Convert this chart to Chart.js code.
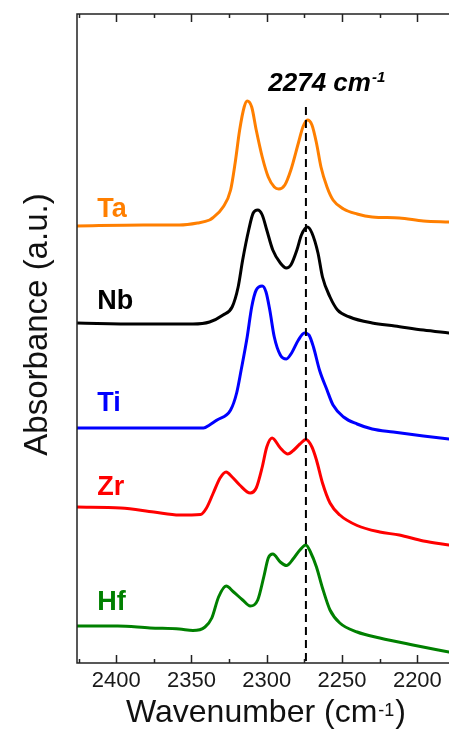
<!DOCTYPE html>
<html><head><meta charset="utf-8">
<script src="https://cdn.jsdelivr.net/npm/chart.js@4"></script>
<style>html,body{margin:0;padding:0;background:#fff;overflow:hidden}canvas{display:block}</style>
</head><body>
<canvas id="c" width="449" height="739"></canvas>
<script>
// ---- data (wavenumber in cm-1, stacked absorbance in a.u.) ----
const taWn  = [2426,2382,2358,2346,2338,2336,2329,2324,2321,2318,2315,2313,2310,2307,2303,2299,2295,2292,2288,2284,2279,2276,2273,2270,2267,2264,2260,2256,2249,2240,2230,2212,2196,2179];
const taAbs = [4.37,4.38,4.38,4.40,4.43,4.45,4.56,4.73,5.00,5.33,5.56,5.62,5.56,5.33,5.06,4.86,4.76,4.74,4.78,4.93,5.20,5.36,5.43,5.38,5.20,4.96,4.76,4.63,4.54,4.49,4.46,4.45,4.42,4.41];

const nbWn  = [2426,2386,2349,2338,2329,2323,2319,2316,2312,2309,2306,2303,2300,2296,2291,2287,2284,2280,2277,2273,2270,2266,2263,2258,2253,2245,2230,2215,2196,2179];
const nbAbs = [3.40,3.39,3.39,3.41,3.48,3.56,3.76,4.03,4.33,4.50,4.53,4.48,4.33,4.13,4.00,3.95,3.98,4.13,4.28,4.36,4.30,4.10,3.86,3.66,3.53,3.46,3.40,3.37,3.33,3.30];

const tiWn  = [2426,2395,2342,2338,2333,2324,2320,2317,2313,2310,2307,2303,2300.5,2298,2295,2291,2287,2283.5,2279,2275,2272,2269,2265,2260,2256,2249,2240,2230,2216,2196,2179];
const tiAbs = [2.35,2.35,2.35,2.38,2.43,2.53,2.70,2.93,3.26,3.56,3.73,3.77,3.71,3.53,3.26,3.08,3.04,3.10,3.23,3.30,3.28,3.16,2.93,2.73,2.58,2.46,2.39,2.34,2.31,2.27,2.24];

const zrWn  = [2426,2397,2375,2358,2344,2340,2335.5,2331,2327,2323,2318,2311,2307,2303,2300,2296.5,2291,2286,2282,2278,2274,2270,2267,2263,2258,2251.5,2240,2225,2212,2196,2179];
const zrAbs = [1.56,1.55,1.51,1.48,1.485,1.55,1.70,1.85,1.91,1.86,1.78,1.70,1.75,1.96,2.16,2.25,2.15,2.09,2.13,2.19,2.235,2.16,2.03,1.80,1.60,1.48,1.375,1.31,1.28,1.22,1.18];

const hfWn  = [2426,2399,2377.5,2358,2349,2341,2336.5,2332,2327,2322,2316,2311,2306,2302,2299,2296,2291,2287,2282,2278,2274,2271,2267,2263,2258,2251.5,2240,2225,2203,2179];
const hfAbs = [0.37,0.37,0.35,0.34,0.325,0.36,0.45,0.66,0.77,0.71,0.63,0.57,0.63,0.86,1.05,1.09,1.01,0.975,1.05,1.13,1.18,1.11,0.96,0.75,0.53,0.40,0.31,0.25,0.18,0.11];

const seriesNames  = ['Ta','Nb','Ti','Zr','Hf'];
const seriesWn     = [taWn, nbWn, tiWn, zrWn, hfWn];
const seriesAbs    = [taAbs, nbAbs, tiAbs, zrAbs, hfAbs];
const seriesColors = ['#FF7F00','#000000','#0000FF','#FF0000','#008000'];
const labelWn  = 2412.5;
const labelAbs = [4.46, 3.54, 2.52, 1.68, 0.53];

const xMajorTicks = [2400,2350,2300,2250,2200];
const xMinorTicks = [2425,2375,2325,2275,2225];
const xMin = 2179, xMax = 2426, yMin = 0, yMax = 6.49;

const markerWn = 2274, markerTopAbs = 5.56;
const noteWn = 2299, noteAbs = 5.72, noteText = '2274 cm', noteSup = '-1';
const xTitleMain = 'Wavenumber (cm', xTitleSup = '-1', xTitleEnd = ')';
const yTitle = 'Absorbance (a.u.)';

const FONT = '"Liberation Sans", Arial, sans-serif';

const deco = {
  id: 'deco',
  afterDatasetsDraw(chart) {
    const ctx = chart.ctx, xs = chart.scales.x, ys = chart.scales.y, a = chart.chartArea;
    ctx.save();
    // dashed marker line
    const mx = xs.getPixelForValue(markerWn);
    ctx.strokeStyle = '#000'; ctx.lineWidth = 2; ctx.setLineDash([8, 5]);
    ctx.beginPath(); ctx.moveTo(mx, ys.getPixelForValue(markerTopAbs)); ctx.lineTo(mx, a.bottom); ctx.stroke();
    ctx.setLineDash([]);
    // frame
    ctx.strokeStyle = '#222'; ctx.lineWidth = 1.5;
    ctx.beginPath();
    ctx.moveTo(a.right + 2, a.top); ctx.lineTo(a.left, a.top);
    ctx.lineTo(a.left, a.bottom); ctx.lineTo(a.right + 2, a.bottom);
    ctx.stroke();
    // inward ticks top & bottom
    ctx.beginPath();
    xMajorTicks.forEach(v => {
      const p = Math.round(xs.getPixelForValue(v)) + 0.5;
      ctx.moveTo(p, a.bottom); ctx.lineTo(p, a.bottom - 8);
      ctx.moveTo(p, a.top); ctx.lineTo(p, a.top + 8);
    });
    xMinorTicks.forEach(v => {
      const p = Math.round(xs.getPixelForValue(v)) + 0.5;
      ctx.moveTo(p, a.bottom); ctx.lineTo(p, a.bottom - 4);
      ctx.moveTo(p, a.top); ctx.lineTo(p, a.top + 4);
    });
    ctx.stroke();
    // series labels
    ctx.textAlign = 'left'; ctx.textBaseline = 'alphabetic';
    ctx.font = 'bold 27px ' + FONT;
    seriesNames.forEach((n, i) => {
      ctx.fillStyle = seriesColors[i];
      ctx.fillText(n, xs.getPixelForValue(labelWn), ys.getPixelForValue(labelAbs[i]));
    });
    // annotation
    ctx.fillStyle = '#000';
    const nx = xs.getPixelForValue(noteWn), ny = ys.getPixelForValue(noteAbs);
    ctx.font = 'italic bold 26px ' + FONT;
    ctx.fillText(noteText, nx, ny);
    const nw = ctx.measureText(noteText).width;
    ctx.font = 'italic bold 15px ' + FONT;
    ctx.fillText(noteSup, nx + nw + 1, ny - 9);
    // x title
    ctx.fillStyle = '#111';
    ctx.font = '32px ' + FONT;
    const w1 = ctx.measureText(xTitleMain).width, w3 = ctx.measureText(xTitleEnd).width;
    ctx.font = '18px ' + FONT;
    const w2 = ctx.measureText(xTitleSup).width;
    const cx = (a.left + a.right) / 2 + 3, by = a.bottom + 59;
    let sx = cx - (w1 + w2 + w3 + 2) / 2;
    ctx.font = '32px ' + FONT; ctx.fillText(xTitleMain, sx, by);
    ctx.font = '18px ' + FONT; ctx.fillText(xTitleSup, sx + w1 + 1, by - 6);
    ctx.font = '32px ' + FONT; ctx.fillText(xTitleEnd, sx + w1 + w2 + 2, by);
    // y title
    ctx.save();
    ctx.translate(a.left - 30, (a.top + a.bottom) / 2 - 14);
    ctx.rotate(-Math.PI / 2);
    ctx.textAlign = 'center';
    ctx.font = '33px ' + FONT;
    ctx.fillText(yTitle, 0, 0);
    ctx.restore();
    ctx.restore();
  }
};

new Chart(document.getElementById('c'), {
  type: 'line',
  data: {
    datasets: seriesNames.map((n, i) => ({
      label: n,
      data: seriesWn[i].map((w, j) => ({ x: w, y: seriesAbs[i][j] })),
      borderColor: seriesColors[i],
      borderWidth: 3,
      pointRadius: 0,
      fill: false,
      cubicInterpolationMode: 'monotone',
      borderJoinStyle: 'round',
      borderCapStyle: 'round'
    }))
  },
  options: {
    responsive: false,
    devicePixelRatio: 1,
    animation: false,
    layout: { padding: { top: 14, left: 0, right: 0, bottom: 0 } },
    plugins: { legend: { display: false }, tooltip: { enabled: false } },
    scales: {
      x: {
        type: 'linear', reverse: true, min: xMin, max: xMax,
        grid: { display: true, drawOnChartArea: false, drawTicks: true, tickLength: 5, color: 'rgba(0,0,0,0)' },
        border: { display: false },
        afterBuildTicks: s => { s.ticks = xMajorTicks.map(v => ({ value: v })); },
        afterFit: s => { s.height = 76; },
        ticks: { font: { size: 22, family: FONT }, color: '#1a1a1a', padding: 0, maxRotation: 0, autoSkip: false,
                 callback: v => String(v) }
      },
      y: {
        min: yMin, max: yMax,
        grid: { display: false }, border: { display: false },
        ticks: { display: false },
        afterFit: s => { s.width = 77; }
      }
    }
  },
  plugins: [deco]
});
</script>
</body></html>
